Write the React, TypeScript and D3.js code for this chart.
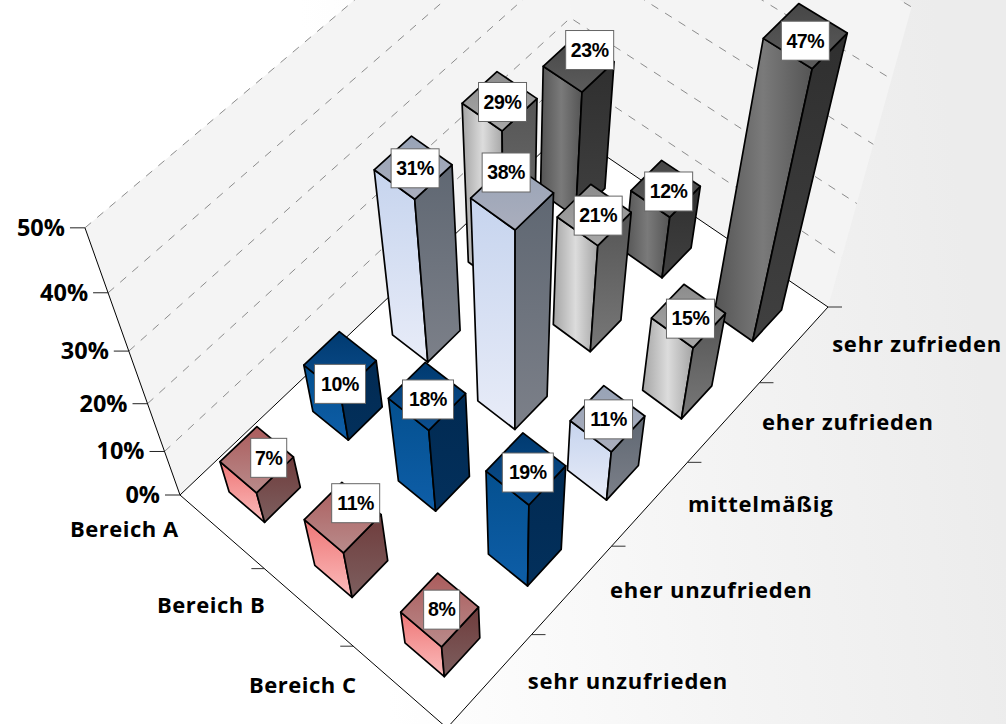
import React from 'react';
import * as d3 from 'd3';

const areas = ['Bereich A', 'Bereich B', 'Bereich C'];
const ratings = ['sehr unzufrieden', 'eher unzufrieden', 'mittelmäßig', 'eher zufrieden', 'sehr zufrieden'];
const heightTicks = [0, 10, 20, 30, 40, 50];

// one list per rating, in the order of areas
const sehrUnzufrieden = [7, 11, 8];
const eherUnzufrieden = [10, 18, 19];
const mittelmaessig = [31, 38, 11];
const eherZufrieden = [29, 21, 15];
const sehrZufrieden = [23, 12, 47];
const seriesValues = [sehrUnzufrieden, eherUnzufrieden, mittelmaessig, eherZufrieden, sehrZufrieden];

const W = 1006;
const H = 724;

// floor corners and nadir point of the perspective
const O = [180, 495];
const B = [447, 728];
const D = [828, 307];
const C = [566, 129];
const nadir = [514, 1434];
const lift = -0.2215;

const dx1 = B[0] - D[0], dx2 = C[0] - D[0], sx = O[0] - B[0] + D[0] - C[0];
const dy1 = B[1] - D[1], dy2 = C[1] - D[1], sy = O[1] - B[1] + D[1] - C[1];
const den = dx1 * dy2 - dx2 * dy1;
const g = (sx * dy2 - dx2 * sy) / den;
const h = (dx1 * sy - sx * dy1) / den;
const a = B[0] - O[0] + g * B[0], b = C[0] - O[0] + h * C[0];
const d = B[1] - O[1] + g * B[1], e = C[1] - O[1] + h * C[1];

const zScale = d3.scaleLinear().domain([0, 50]).range([0, 1]);

// u along the areas, v along the ratings, value in percent
const project = (u: number, v: number, value = 0): [number, number] => {
  const z = zScale(value) * lift;
  const w = g * u + h * v + 1 + z;
  return [(a * u + b * v + O[0] + z * nadir[0]) / w, (d * u + e * v + O[1] + z * nadir[1]) / w];
};

const uScale = d3.scaleBand().domain(areas).range([0, 1]).paddingInner(0.58).paddingOuter(0.29);
const vScale = d3.scaleBand().domain(ratings).range([0, 1]).paddingInner(0.58).paddingOuter(0.29);
const uTicks = d3.scaleLinear().domain([0, 3]).range([0, 1]);
const vTicks = d3.scaleLinear().domain([0, 5]).range([0, 1]);

const poly = (pts: [number, number][]) => pts.map(p => p.map(n => n.toFixed(1)).join(',')).join(' ');

// top, left and right face colours for each rating
const faceColors = [
  { top: ['#ab5c5c', '#b98b8b'], left: ['#ee7676', '#fbbcbc'], right: ['#6f3c3c', '#7d5f5f'], horiz: false },
  { top: ['#003a70', '#0c4f8f'], left: ['#04508f', '#0e5ea8'], right: ['#012a52', '#03305c'], horiz: false },
  { top: ['#98a3b6', '#aaaebd'], left: ['#c6d4ee', '#e8ecf8'], right: ['#5f6772', '#7c8089'], horiz: false },
  { top: ['#8c8c8c', '#a8a8a8'], left: ['#a4a4a4', '#dcdcdc'], right: ['#555555', '#787878'], horiz: true },
  { top: ['#464646', '#5c5c5c'], left: ['#545454', '#7a7a7a'], right: ['#2f2f2f', '#404040'], horiz: true },
];

// shift of each value box from the middle of its bar's top, by rating then area
const labelNudge: number[][] = [
  [12, -1.5], [13, -14], [2, 0],
  [0, 21], [1, 3.5], [2, 4],
  [2, 1], [-6, -23], [1, 1],
  [3, 1], [4, 1], [2, 3],
  [11, -14], [3, 3], [0, 5],
];

const labelFont = '"Open Sans", sans-serif';

type Bar = { area: string; rating: string; ai: number; ri: number; value: number };
const bars: Bar[] = [];
ratings.forEach((rating, ri) => areas.forEach((area, ai) => bars.push({ area, rating, ai, ri, value: seriesValues[ri][ai] })));
// back to front
const drawOrder = [...bars].sort((p, q) => (p.ai - p.ri) - (q.ai - q.ri));

const App: React.FC = () => {
  const bw = uScale.bandwidth();
  const bv = vScale.bandwidth();
  return (
    <svg width={W} height={H} viewBox={`0 0 ${W} ${H}`} style={{ position: 'absolute', left: 0, top: 0 }}>
      <defs>
        <linearGradient id="bg" gradientUnits="userSpaceOnUse" x1={380} y1={640} x2={1006} y2={560}>
          <stop offset="0" stopColor="#ffffff" />
          <stop offset="0.55" stopColor="#f4f4f4" />
          <stop offset="1" stopColor="#ececec" />
        </linearGradient>
        {faceColors.map((fc, i) => (
          <React.Fragment key={i}>
            <linearGradient id={`top${i}`} x1="0" y1="0" x2="0" y2="1">
              <stop offset="0" stopColor={fc.top[0]} />
              <stop offset="1" stopColor={fc.top[1]} />
            </linearGradient>
            {fc.horiz ? (
              <linearGradient id={`left${i}`} x1="0" y1="0" x2="1" y2="0">
                <stop offset="0" stopColor={fc.left[0]} />
                <stop offset="0.5" stopColor={fc.left[1]} />
                <stop offset="1" stopColor={fc.left[0]} />
              </linearGradient>
            ) : (
              <linearGradient id={`left${i}`} x1="0" y1="0" x2="0" y2="1">
                <stop offset="0" stopColor={fc.left[0]} />
                <stop offset="1" stopColor={fc.left[1]} />
              </linearGradient>
            )}
            <linearGradient id={`right${i}`} x1="0" y1="0" x2="0" y2="1">
              <stop offset="0" stopColor={fc.right[0]} />
              <stop offset="1" stopColor={fc.right[1]} />
            </linearGradient>
          </React.Fragment>
        ))}
      </defs>

      <rect width={W} height={H} fill="url(#bg)" />

      {/* walls and floor */}
      <polygon points={poly([project(0, 0), project(0, 1), project(0, 1, 50), project(0, 0, 50)])} fill="#f4f4f4" />
      <polygon points={poly([project(0, 1), project(1, 1), project(1, 1, 50), project(0, 1, 50)])} fill="#f4f4f4" />
      <polygon points={poly([project(0, 0), project(1, 0), project(1, 1), project(0, 1)])} fill="#ffffff" stroke="#000" strokeWidth={1} />

      {heightTicks.slice(1).map(t => (
        <polyline
          key={t}
          points={poly([project(0, 0, t), project(0, 1, t), project(1, 1, t)])}
          fill="none"
          stroke="#8c8c8c"
          strokeWidth={1}
          strokeDasharray="8 8"
        />
      ))}
      <line x1={project(0, 0)[0]} y1={project(0, 0)[1]} x2={project(0, 0, 50)[0]} y2={project(0, 0, 50)[1]} stroke="#000" />

      {/* height axis */}
      {heightTicks.map(t => {
        const [x, y] = project(0, 0, t);
        return (
          <g key={t}>
            <line x1={x - 15} y1={y} x2={x} y2={y} stroke="#222" />
            <text x={x - 20} y={y + 8} textAnchor="end" fontFamily={labelFont} fontWeight={700} fontSize={23.5}>{t}%</text>
          </g>
        );
      })}

      {/* floor ticks and category names */}
      {d3.range(1, 3).map(i => {
        const [x, y] = project(uTicks(i), 0);
        return <line key={i} x1={x - 13} y1={y} x2={x} y2={y} stroke="#333" />;
      })}
      {d3.range(0, 6).map(i => {
        const [x, y] = project(1, vTicks(i));
        return <line key={i} x1={x} y1={y} x2={x + 14} y2={y} stroke="#333" />;
      })}
      {areas.map((area, i) => {
        const [x, y] = project(uTicks(i + 0.5), 0);
        return <text key={area} x={x - 43} y={y + 6} textAnchor="end" fontFamily={labelFont} fontWeight={700} fontSize={22} letterSpacing={0.5}>{area}</text>;
      })}
      {ratings.map((rating, i) => {
        const [x, y] = project(1, vTicks(i + 0.5));
        return <text key={rating} x={x + 38} y={y + 8} fontFamily={labelFont} fontWeight={700} fontSize={22} letterSpacing={0.78}>{rating}</text>;
      })}

      {/* bars */}
      {drawOrder.map(bar => {
        const u0 = uScale(bar.area) as number, u1 = u0 + bw;
        const v0 = vScale(bar.rating) as number, v1 = v0 + bv;
        const val = bar.value;
        return (
          <g key={`${bar.area}-${bar.rating}`} stroke="#000" strokeWidth={1.7} strokeLinejoin="round">
            <polygon fill={`url(#left${bar.ri})`} points={poly([project(u0, v0, val), project(u1, v0, val), project(u1, v0), project(u0, v0)])} />
            <polygon fill={`url(#right${bar.ri})`} points={poly([project(u1, v0, val), project(u1, v1, val), project(u1, v1), project(u1, v0)])} />
            <polygon fill={`url(#top${bar.ri})`} points={poly([project(u0, v0, val), project(u0, v1, val), project(u1, v1, val), project(u1, v0, val)])} />
          </g>
        );
      })}

      {/* value boxes */}
      {bars.map((bar, i) => {
        const u = (uScale(bar.area) as number) + bw / 2;
        const v = (vScale(bar.rating) as number) + bv / 2;
        const [cx, cy] = project(u, v, bar.value);
        const [nx, ny] = labelNudge[i];
        const bwid = bar.value < 10 ? 36 : bar.ri === 1 ? 51 : 48;
        return (
          <g key={i} transform={`translate(${cx + nx},${cy + ny})`}>
            <rect x={-bwid / 2} y={-19.5} width={bwid} height={39} fill="#fff" stroke="#666" strokeWidth={1} />
            <text y={6.8} textAnchor="middle" fontFamily='"Liberation Sans", Arial, sans-serif' fontWeight={700} fontSize={19.5} letterSpacing={-0.4}>{bar.value}%</text>
          </g>
        );
      })}
    </svg>
  );
};

export default App;
